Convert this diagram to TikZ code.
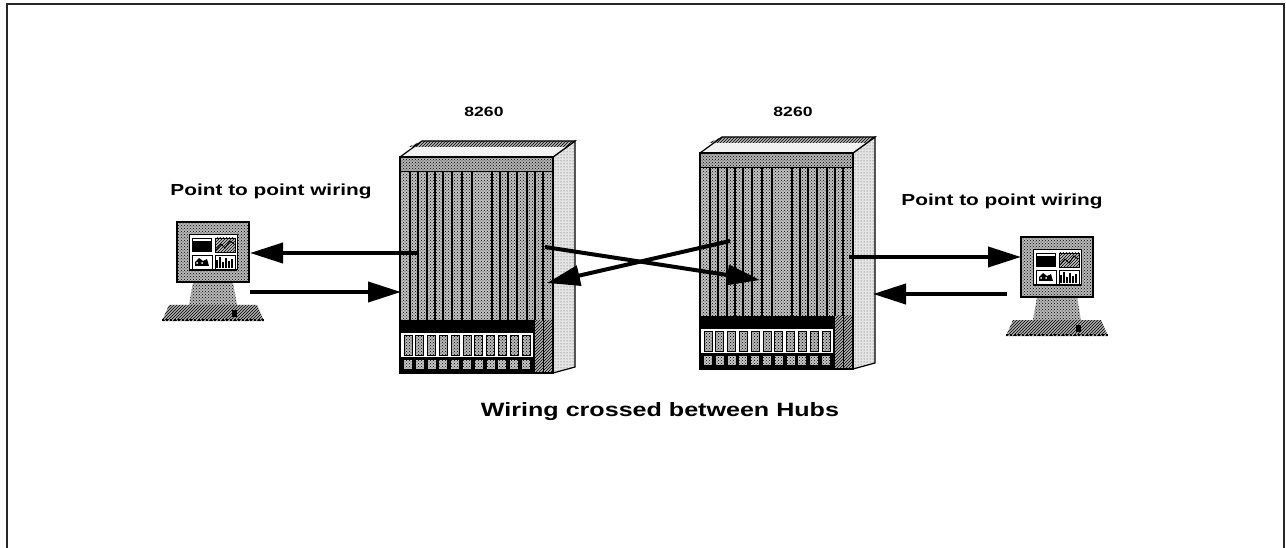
\documentclass[tikz,border=0pt]{standalone}
\usepackage{fontspec}
\newfontfamily\labelfont{Liberation Sans}[FakeStretch=1.3]
\usetikzlibrary{arrows.meta,patterns}

\tikzset{
  wire/.style={line width=4pt, -{Triangle[length=33pt,width=20pt]}},
  outline/.style={draw=black, line width=1.6pt},
  dotfill/.style={pattern=crosshatch dots, pattern color=black},
  lightdots/.style={pattern=dots, pattern color=black!70},
  hatchfill/.style={pattern=north east lines, pattern color=black},
  lbl/.style={font=\labelfont\bfseries, inner sep=0pt, anchor=base}
}

% one 8260 hub chassis, front face top-left corner at (#1,#2)
\newcommand{\hubunit}[2]{%
\begin{scope}[shift={(#1,#2)}]
  % side face
  \fill[black!10] (153,0) -- (175,-16) -- (175,210) -- (153,216) -- cycle;
  \fill[lightdots] (153,0) -- (175,-16) -- (175,210) -- (153,216) -- cycle;
  \draw[line width=1.2pt] (153,0) -- (175,-16) -- (175,210) -- (153,216);
  % top face
  \fill[black!5] (0,0) -- (22,-16) -- (175,-16) -- (153,0) -- cycle;
  \fill[black!30] (8.25,-10) -- (22,-16) -- (175,-16) -- (166.75,-10) -- cycle;
  \fill[hatchfill] (8.25,-10) -- (22,-16) -- (175,-16) -- (166.75,-10) -- cycle;
  \draw[line width=1.2pt] (0,0) -- (22,-16) -- (175,-16) -- (153,0);
  % front face
  \fill[black!24] (0,0) rectangle (153,163);
  \fill[dotfill] (0,0) rectangle (153,163);
  \fill[black!30] (0,0) rectangle (153,15);
  \fill[dotfill] (0,0) rectangle (153,15);
  \draw[line width=1pt] (0,15) -- (153,15);
  \foreach \sx in {10,18,27,35,43,52,62,72,92,100,108,117,127,135,143}
    \draw[line width=1.8pt] (\sx,15) -- (\sx,163);
  % black band and card rows
  \fill[white] (0,163) rectangle (153,216);
  \fill[black] (0,163) rectangle (134,176);
  \fill[black] (0,200) rectangle (134,216);
  \foreach \i in {0,...,10} {
    \filldraw[fill=black!28, draw=black, line width=0.8pt] (4+11.8*\i,178) rectangle ++(8,20);
    \fill[dotfill] (4+11.8*\i,178) rectangle ++(8,20);
    \fill[black!22] (4+11.8*\i,203) rectangle ++(8,9);
    \fill[dotfill] (4+11.8*\i,203) rectangle ++(8,9);
  }
  % narrow cards on the right
  \fill[black!30] (134,163) rectangle (153,216);
  \fill[hatchfill] (134,163) rectangle (153,216);
  \draw[line width=1.4pt] (134,163) -- (134,216) (143.5,163) -- (143.5,216);
  \draw[line width=2.6pt] (0,0) -- (153,0);
  \draw[outline] (0,0) rectangle (153,216);
\end{scope}}

% workstation, monitor top-left corner at (#1,#2)
\newcommand{\workstation}[2]{%
\begin{scope}[shift={(#1,#2)}]
  % stand
  \fill[black!28] (16,60) -- (56,60) -- (60,83) -- (12,83) -- cycle;
  \fill[dotfill] (16,60) -- (56,60) -- (60,83) -- (12,83) -- cycle;
  % keyboard
  \fill[black!32] (-8,83) -- (80,83) -- (87,99) -- (-15,99) -- cycle;
  \fill[hatchfill] (-8,83) -- (80,83) -- (87,99) -- (-15,99) -- cycle;
  \draw[line width=2pt, dotted] (-15,98) -- (87,98);
  \fill[black] (55,88) rectangle ++(5,7);
  % monitor
  \fill[black!28] (0,0) rectangle (72,60);
  \fill[dotfill] (0,0) rectangle (72,60);
  \draw[line width=1.4pt] (0,0) rectangle (72,60);
  \fill[white] (12,13) rectangle (60,48);
  \draw[line width=1pt] (12,13) rectangle (60,48);
  % screen panes
  \fill[black] (15,16) rectangle (35,30);
  \fill[white] (16,17) rectangle (34,19);
  \fill[black!25] (38,16) rectangle (58,30);
  \fill[hatchfill] (38,16) rectangle (58,30);
  \draw[line width=0.8pt] (38,16) rectangle (58,30);
  \draw[line width=1pt] (39,28) -- (44,22) -- (48,26) -- (53,19) -- (57,22);
  \draw[line width=0.8pt] (15,33) rectangle (35,47);
  \fill[black] (18,40) -- (22,36) -- (26,39) -- (30,37) -- (32,44) -- (18,44) -- cycle;
  \fill[white] (20,41) circle (1) (25,41) circle (1);
  \draw[line width=0.8pt] (38,33) rectangle (58,47);
  \foreach \bx/\bh in {40/8,43/11,46/6,49/10,52/7,55/9}
    \draw[line width=1.2pt] (\bx,46) -- (\bx,46-\bh);
  \draw[line width=1.4pt] (12,48) -- (60,48);
\end{scope}}

\begin{document}
\begin{tikzpicture}[x=1pt, y=-1pt]
  \useasboundingbox (0,0) rectangle (1286,548);
  \fill[white] (0,0) rectangle (1286,548);

  % page frame
  \draw[line width=2pt, black!85] (7,548) -- (7,4) -- (1284,4) -- (1284,548);

  % the two hubs
  \hubunit{400}{157}
  \hubunit{700}{153}

  % the two workstations
  \workstation{177}{222}
  \workstation{1021}{237}

  % wiring end points
  \coordinate (h1out)  at (418,253);
  \coordinate (pc1in)  at (250,253);
  \coordinate (pc1out) at (250,292);
  \coordinate (h1in)   at (401,292);
  \coordinate (h1x)    at (545,247);
  \coordinate (h2xin)  at (760,280);
  \coordinate (h2x)    at (730,241);
  \coordinate (h1xin)  at (547,283);
  \coordinate (h2out)  at (849,257);
  \coordinate (pc2in)  at (1021,257);
  \coordinate (pc2out) at (1007,294);
  \coordinate (h2in)   at (873,294);

  \draw[wire] (h1out) -- (pc1in);
  \draw[wire] (pc1out) -- (h1in);
  \draw[wire] (h1x) -- (h2xin);
  \draw[wire] (h2x) -- (h1xin);
  \draw[wire] (h2out) -- (pc2in);
  \draw[wire] (pc2out) -- (h2in);

  % labels
  \node[lbl, font=\labelfont\bfseries\fontsize{13.5}{14}\selectfont] (hubname1) at (484,117) {8260};
  \node[lbl, font=\labelfont\bfseries\fontsize{13.5}{14}\selectfont] (hubname2) at (793,117) {8260};
  \node[lbl, font=\labelfont\bfseries\fontsize{16}{18}\selectfont] (ptpleft) at (271,196) {Point to point wiring};
  \node[lbl, font=\labelfont\bfseries\fontsize{16}{18}\selectfont] (ptpright) at (1002,206) {Point to point wiring};
  \node[lbl, font=\labelfont\bfseries\fontsize{19.3}{22}\selectfont] (caption) at (660,416) {Wiring crossed between Hubs};
\end{tikzpicture}
\end{document}
